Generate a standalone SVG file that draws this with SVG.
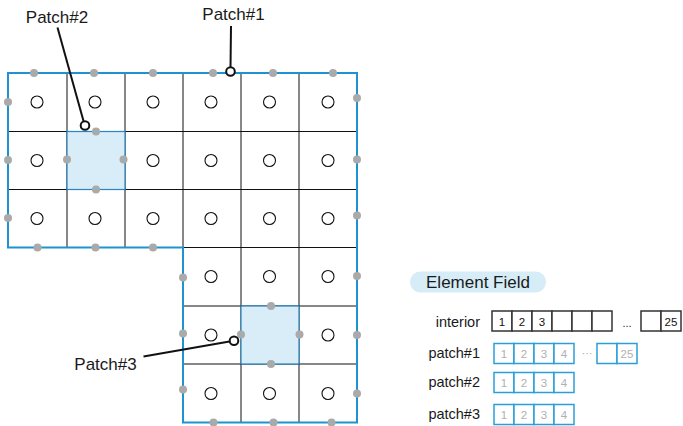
<svg xmlns="http://www.w3.org/2000/svg" width="683" height="426" viewBox="0 0 683 426">
<style>
  text { font-family: "Liberation Sans", Arial, sans-serif; fill: #1a1a1a; }
  .lbl { font-size: 17px; }
  .row { font-size: 14.5px; text-anchor: end; }
  .grid { stroke: #111; stroke-width: 1; fill: none; }
  .outline { stroke: #1f93d1; stroke-width: 2; fill: none; stroke-linejoin: miter; }
  .patch { fill: #d8edf7; stroke: #2a84bd; stroke-width: 1.2; }
  .node { fill: #fff; stroke: #111; stroke-width: 1.1; }
  .dot { fill: #aaaaaa; }
  .call { fill: #fff; stroke: #111; stroke-width: 2; }
  .lead { stroke: #111; stroke-width: 2; fill: none; }
  .ib { fill: #fff; stroke: #333; stroke-width: 1.5; }
  .pb { fill: #fff; stroke: #2a9ed8; stroke-width: 1.5; }
  .inum { font-size: 11.5px; text-anchor: middle; fill: #111; }
  .pnum { font-size: 11.5px; text-anchor: middle; fill: #b0b0b0; }
</style>

<g id="grid">
  <rect x="8" y="73" width="349" height="349" fill="#fff" stroke="none"/>
  <rect x="8" y="247.5" width="175" height="175" fill="#fff" stroke="none"/>
  <path class="grid" d="M8 131.5H357 M8 189.5H357 M183 247.5H357 M183 306H357 M183 364H357 M67 73V247.5 M125 73V247.5 M183 73V247.5 M241 73V422.5 M299 73V422.5"/>
</g>

<g id="patch2">
  <rect class="patch" x="67" y="131.5" width="58" height="58"/>
</g>
<g id="patch3">
  <rect class="patch" x="241" y="306" width="58" height="58"/>
</g>

<g id="patch1">
  <path class="outline" d="M8 73H357V422.5H183V247.5H8Z"/>
</g>

<g id="elements">
  <circle class="node" cx="37" cy="102" r="6"/>
  <circle class="node" cx="95" cy="102" r="6"/>
  <circle class="node" cx="153" cy="102" r="6"/>
  <circle class="node" cx="211" cy="102" r="6"/>
  <circle class="node" cx="269.5" cy="102" r="6"/>
  <circle class="node" cx="328" cy="102" r="6"/>
  <circle class="node" cx="37" cy="160.5" r="6"/>
  <circle class="node" cx="153" cy="160.5" r="6"/>
  <circle class="node" cx="211" cy="160.5" r="6"/>
  <circle class="node" cx="269.5" cy="160.5" r="6"/>
  <circle class="node" cx="328" cy="160.5" r="6"/>
  <circle class="node" cx="37" cy="218.5" r="6"/>
  <circle class="node" cx="95" cy="218.5" r="6"/>
  <circle class="node" cx="153" cy="218.5" r="6"/>
  <circle class="node" cx="211" cy="218.5" r="6"/>
  <circle class="node" cx="269.5" cy="218.5" r="6"/>
  <circle class="node" cx="328" cy="218.5" r="6"/>
  <circle class="node" cx="211" cy="276.5" r="6"/>
  <circle class="node" cx="269.5" cy="276.5" r="6"/>
  <circle class="node" cx="328" cy="276.5" r="6"/>
  <circle class="node" cx="211" cy="335" r="6"/>
  <circle class="node" cx="328" cy="335" r="6"/>
  <circle class="node" cx="211" cy="393.5" r="6"/>
  <circle class="node" cx="269.5" cy="393.5" r="6"/>
  <circle class="node" cx="328" cy="393.5" r="6"/>
</g>

<g id="boundary-points">
  <circle class="dot" cx="34" cy="73" r="4"/>
  <circle class="dot" cx="94" cy="73" r="4"/>
  <circle class="dot" cx="153" cy="73" r="4"/>
  <circle class="dot" cx="213" cy="73" r="4"/>
  <circle class="dot" cx="273" cy="73" r="4"/>
  <circle class="dot" cx="333" cy="73" r="4"/>
  <circle class="dot" cx="8" cy="102" r="4"/>
  <circle class="dot" cx="8" cy="160" r="4"/>
  <circle class="dot" cx="8" cy="218" r="4"/>
  <circle class="dot" cx="357" cy="98" r="4"/>
  <circle class="dot" cx="357" cy="159.5" r="4"/>
  <circle class="dot" cx="357" cy="215.5" r="4"/>
  <circle class="dot" cx="37.5" cy="247.5" r="4"/>
  <circle class="dot" cx="95.5" cy="247.5" r="4"/>
  <circle class="dot" cx="153" cy="247.5" r="4"/>
  <circle class="dot" cx="183" cy="277.5" r="4"/>
  <circle class="dot" cx="183" cy="333.5" r="4"/>
  <circle class="dot" cx="183" cy="389.5" r="4"/>
  <circle class="dot" cx="357" cy="276" r="4"/>
  <circle class="dot" cx="357" cy="335" r="4"/>
  <circle class="dot" cx="357" cy="393.5" r="4"/>
  <circle class="dot" cx="213.5" cy="422.5" r="4"/>
  <circle class="dot" cx="273.5" cy="422.5" r="4"/>
  <circle class="dot" cx="331.5" cy="422.5" r="4"/>
  <circle class="dot" cx="96" cy="131.5" r="4"/>
  <circle class="dot" cx="67" cy="159.5" r="4"/>
  <circle class="dot" cx="123.5" cy="159.5" r="4"/>
  <circle class="dot" cx="96" cy="189.5" r="4"/>
  <circle class="dot" cx="271" cy="306" r="4"/>
  <circle class="dot" cx="241" cy="334.5" r="4"/>
  <circle class="dot" cx="299.5" cy="334.5" r="4"/>
  <circle class="dot" cx="271" cy="364" r="4"/>
</g>

<g id="connectors">
  <line class="lead" x1="231" y1="26" x2="230.5" y2="67"/>
  <line class="lead" x1="57.5" y1="27.5" x2="83.5" y2="121"/>
  <line class="lead" x1="143.5" y1="356.5" x2="229.5" y2="341.5"/>
  <circle class="call" cx="230.5" cy="71.5" r="4.3"/>
  <circle class="call" cx="85" cy="125.5" r="4.3"/>
  <circle class="call" cx="234" cy="340.8" r="4.3"/>
</g>

<g id="callout-labels">
  <text class="lbl" x="233.5" y="20" text-anchor="middle">Patch#1</text>
  <text class="lbl" x="57" y="23" text-anchor="middle">Patch#2</text>
  <text class="lbl" x="105.5" y="370" text-anchor="middle">Patch#3</text>
</g>

<g id="element-field">
  <rect x="410" y="271.5" width="136" height="21" rx="10.5" fill="#d6ecf7"/>
  <text x="478" y="287.5" font-size="17" text-anchor="middle">Element Field</text>
</g>

<g id="row-interior">
  <text class="row" x="480" y="327">interior</text>
  <rect class="ib" x="492" y="311" width="20" height="20"/>
  <rect class="ib" x="512" y="311" width="20" height="20"/>
  <rect class="ib" x="532" y="311" width="20" height="20"/>
  <rect class="ib" x="552" y="311" width="20" height="20"/>
  <rect class="ib" x="572" y="311" width="20" height="20"/>
  <rect class="ib" x="592" y="311" width="20" height="20"/>
  <text class="inum" x="502" y="325.5">1</text>
  <text class="inum" x="522" y="325.5">2</text>
  <text class="inum" x="542" y="325.5">3</text>
  <text x="627" y="327" font-size="11" text-anchor="middle">...</text>
  <rect class="ib" x="641" y="311" width="20" height="20"/>
  <rect class="ib" x="661" y="311" width="20" height="20"/>
  <text class="inum" x="671" y="325.5">25</text>
</g>

<g id="row-patch1">
  <text class="row" x="480" y="357.5">patch#1</text>
  <rect class="pb" x="494" y="343.5" width="20" height="20"/>
  <rect class="pb" x="514" y="343.5" width="20" height="20"/>
  <rect class="pb" x="534" y="343.5" width="20" height="20"/>
  <rect class="pb" x="554" y="343.5" width="20" height="20"/>
  <text class="pnum" x="504" y="358">1</text>
  <text class="pnum" x="524" y="358">2</text>
  <text class="pnum" x="544" y="358">3</text>
  <text class="pnum" x="564" y="358">4</text>
  <text x="587" y="357" font-size="11" text-anchor="middle" fill="#aaa" style="fill:#aaa">···</text>
  <rect class="pb" x="597" y="343.5" width="20" height="20"/>
  <rect class="pb" x="617" y="343.5" width="20" height="20"/>
  <text class="pnum" x="627" y="358">25</text>
</g>

<g id="row-patch2">
  <text class="row" x="480" y="387">patch#2</text>
  <rect class="pb" x="494" y="372.5" width="20" height="20"/>
  <rect class="pb" x="514" y="372.5" width="20" height="20"/>
  <rect class="pb" x="534" y="372.5" width="20" height="20"/>
  <rect class="pb" x="554" y="372.5" width="20" height="20"/>
  <text class="pnum" x="504" y="387">1</text>
  <text class="pnum" x="524" y="387">2</text>
  <text class="pnum" x="544" y="387">3</text>
  <text class="pnum" x="564" y="387">4</text>
</g>

<g id="row-patch3">
  <text class="row" x="480" y="419">patch#3</text>
  <rect class="pb" x="494" y="404.5" width="20" height="20"/>
  <rect class="pb" x="514" y="404.5" width="20" height="20"/>
  <rect class="pb" x="534" y="404.5" width="20" height="20"/>
  <rect class="pb" x="554" y="404.5" width="20" height="20"/>
  <text class="pnum" x="504" y="419">1</text>
  <text class="pnum" x="524" y="419">2</text>
  <text class="pnum" x="544" y="419">3</text>
  <text class="pnum" x="564" y="419">4</text>
</g>
</svg>
